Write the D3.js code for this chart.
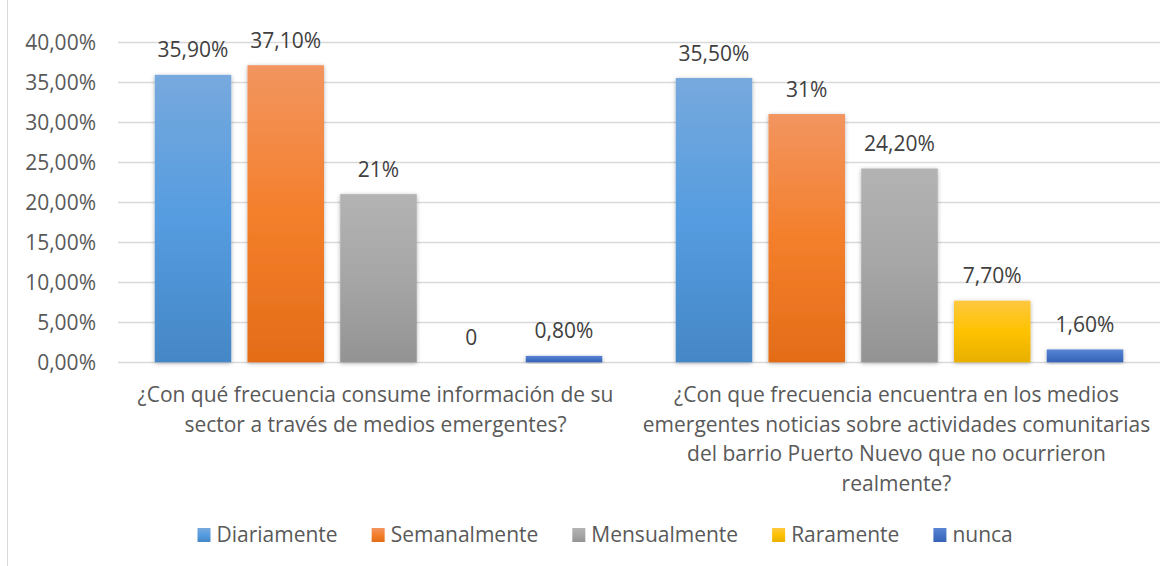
<!DOCTYPE html>
<html>
<head>
<meta charset="utf-8">
<script src="https://cdn.jsdelivr.net/npm/d3@7"></script>
<style>
  html, body { margin: 0; padding: 0; background: #ffffff; }
  svg text { font-family: "Open Sans", "Liberation Sans", sans-serif; }
</style>
</head>
<body>
<div id="chart"></div>
<script>
// data
const categories = [
    ["¿Con qué frecuencia consume información de su", "sector a través de medios emergentes?"],
    ["¿Con que frecuencia encuentra en los medios", "emergentes noticias sobre actividades comunitarias", "del barrio Puerto Nuevo que no ocurrieron", "realmente?"]
];
const seriesNames = ["Diariamente", "Semanalmente", "Mensualmente", "Raramente", "nunca"];
const consumeValues = [35.9, 37.1, 21, 0, 0.8];
const encuentraValues = [35.5, 31, 24.2, 7.7, 1.6];
const consumeLabels = ["35,90%", "37,10%", "21%", "0", "0,80%"];
const encuentraLabels = ["35,50%", "31%", "24,20%", "7,70%", "1,60%"];
const yTicks = [0, 5, 10, 15, 20, 25, 30, 35, 40];
const yTickLabels = ["0,00%", "5,00%", "10,00%", "15,00%", "20,00%", "25,00%", "30,00%", "35,00%", "40,00%"];

const width = 1172, height = 566;
const plot = { left: 118, right: 1160, top: 42, bottom: 362.3 };
const fontSize = "21px";

// gradient stops per series (top, middle, bottom)
const colors = [
    ["#77a9dd", "#559ce0", "#4587c6"],
    ["#f29560", "#f47f2b", "#e36c18"],
    ["#b3b3b3", "#a6a6a6", "#939393"],
    ["#ffc840", "#fec200", "#e8b000"],
    ["#5a85d4", "#4472c4", "#3763b7"]
];

const groups = [
    { key: 0, values: consumeValues, labels: consumeLabels },
    { key: 1, values: encuentraValues, labels: encuentraLabels }
];

const svg = d3.select("#chart")
    .append("svg")
    .attr("width", width)
    .attr("height", height);

const defs = svg.append("defs");
colors.forEach((c, i) => {
    const g = defs.append("linearGradient")
        .attr("id", "grad" + i)
        .attr("x1", "0%").attr("y1", "0%")
        .attr("x2", "0%").attr("y2", "100%");
    g.append("stop").attr("offset", "0%").attr("stop-color", c[0]);
    g.append("stop").attr("offset", "50%").attr("stop-color", c[1]);
    g.append("stop").attr("offset", "100%").attr("stop-color", c[2]);
});
defs.append("filter")
    .attr("id", "shadow")
    .attr("x", "-20%").attr("y", "-20%")
    .attr("width", "140%").attr("height", "140%")
    .append("feDropShadow")
    .attr("dx", 0).attr("dy", 1)
    .attr("stdDeviation", 2)
    .attr("flood-color", "#000")
    .attr("flood-opacity", 0.3);

// chart frame (left edge visible)
svg.append("line")
    .attr("x1", 7.5).attr("x2", 7.5)
    .attr("y1", 0).attr("y2", height)
    .attr("stroke", "#d9d9d9")
    .attr("stroke-width", 1);

const y = d3.scaleLinear()
    .domain([0, 40])
    .range([plot.bottom, plot.top]);

const x0 = d3.scaleBand()
    .domain(groups.map(d => d.key))
    .range([plot.left, plot.right]);

const x1 = d3.scaleBand()
    .domain(d3.range(seriesNames.length))
    .range([0, x0.bandwidth()])
    .paddingInner(0.175)
    .paddingOuter(0.396);

// gridlines
svg.append("g")
    .selectAll("line")
    .data(yTicks)
    .join("line")
    .attr("x1", plot.left)
    .attr("x2", plot.right)
    .attr("y1", d => Math.round(y(d)) + 0.5)
    .attr("y2", d => Math.round(y(d)) + 0.5)
    .attr("stroke", "#d9d9d9")
    .attr("stroke-width", 1.3);

// y axis labels
const yAxis = d3.axisLeft(y)
    .tickValues(yTicks)
    .tickFormat((d, i) => yTickLabels[i])
    .tickSize(0)
    .tickPadding(0);

svg.append("g")
    .attr("transform", "translate(96,0)")
    .call(yAxis)
    .call(g => g.select(".domain").remove())
    .selectAll("text")
    .attr("fill", "#595959")
    .style("font-size", fontSize)
    .style("font-family", "'Open Sans', 'Liberation Sans', sans-serif")
    .attr("dy", "0.35em");

// bars
const groupG = svg.append("g")
    .selectAll("g")
    .data(groups)
    .join("g")
    .attr("transform", d => `translate(${x0(d.key)},0)`);

groupG.selectAll("rect")
    .data(d => d.values.map((v, i) => ({ v, i })))
    .join("rect")
    .attr("x", d => x1(d.i))
    .attr("width", x1.bandwidth())
    .attr("y", d => y(d.v))
    .attr("height", d => y(0) - y(d.v))
    .attr("fill", d => `url(#grad${d.i})`)
    .attr("filter", "url(#shadow)");

groupG.selectAll("text.value")
    .data(d => d.values.map((v, i) => ({ v, i, label: d.labels[i] })))
    .join("text")
    .attr("class", "value")
    .attr("x", d => x1(d.i) + x1.bandwidth() / 2)
    .attr("y", d => y(d.v) - 17.5)
    .attr("text-anchor", "middle")
    .attr("fill", "#404040")
    .style("font-size", fontSize)
    .text(d => d.label);

// category labels
svg.append("g")
    .selectAll("text")
    .data(groups)
    .join("text")
    .attr("text-anchor", "middle")
    .attr("fill", "#595959")
    .style("font-size", fontSize)
    .attr("transform", d => `translate(${x0(d.key) + x0.bandwidth() / 2 - 3},402)`)
    .selectAll("tspan")
    .data(d => categories[d.key])
    .join("tspan")
    .attr("x", 0)
    .attr("y", (d, i) => i * 29.5)
    .text(d => d);

// legend
const legend = svg.append("g").attr("transform", "translate(197.5,0)");
let lx = 0;
seriesNames.forEach((name, i) => {
    const item = legend.append("g").attr("transform", `translate(${lx},0)`);
    item.append("rect")
        .attr("x", 0)
        .attr("y", 528)
        .attr("width", 13)
        .attr("height", 14)
        .attr("fill", `url(#grad${i})`);
    const t = item.append("text")
        .attr("x", 19)
        .attr("y", 542)
        .attr("fill", "#595959")
        .style("font-size", fontSize)
        .text(name);
    lx += 19 + t.node().getComputedTextLength() + 34;
});
</script>
</body>
</html>
